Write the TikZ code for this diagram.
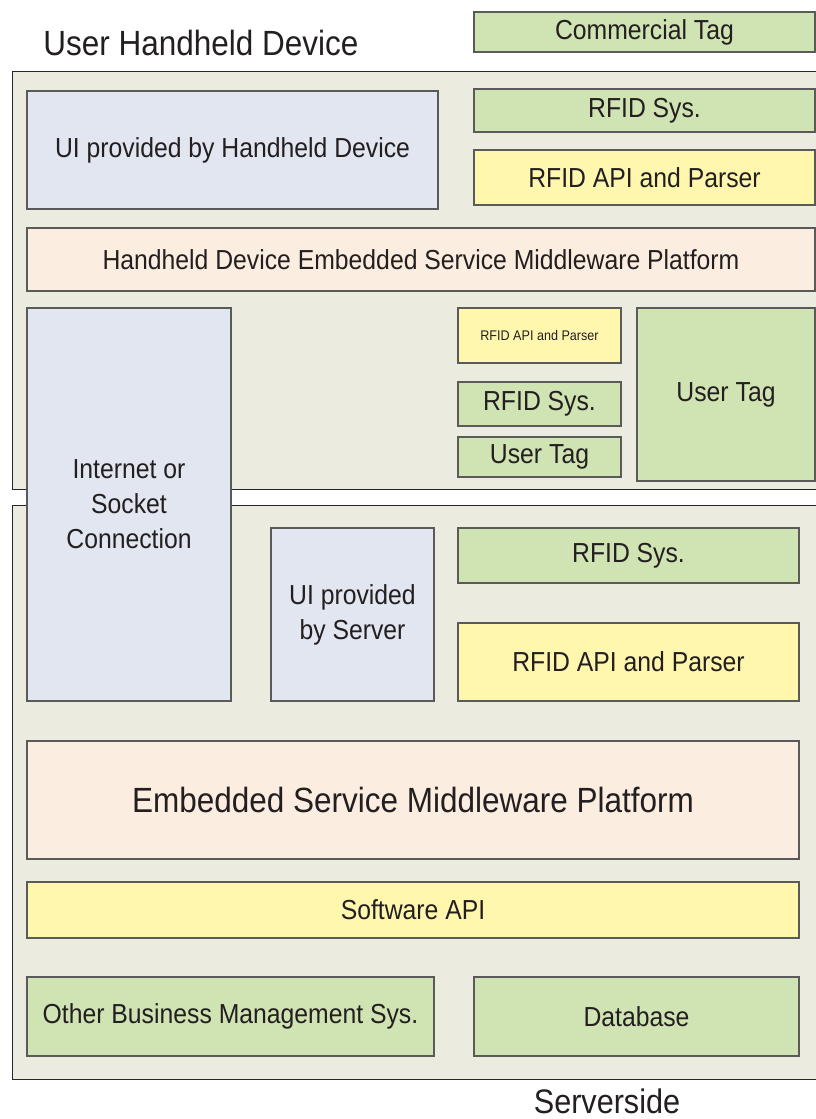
\documentclass[tikz,border=0pt]{standalone}
\usepackage{fontspec}
\setmainfont{Liberation Sans}[FakeStretch=0.9]
\definecolor{cont}{HTML}{EBEBDF}
\definecolor{bluef}{HTML}{E1E6F0}
\definecolor{greenf}{HTML}{D0E3B2}
\definecolor{yellowf}{HTML}{FFF7AE}
\definecolor{peachf}{HTML}{FCEDE1}
\definecolor{edge}{HTML}{5A5A5A}
\definecolor{txt}{HTML}{231F20}
\begin{document}
\begin{tikzpicture}[x=1pt,y=-1pt,
  box/.style={draw=edge,line width=1.1pt,rectangle,inner sep=0pt,text=txt,align=center,
    font=\fontsize{27.5}{35}\selectfont},
  contbox/.style={draw=black!85,line width=1.1pt,fill=cont,rectangle,inner sep=0pt,anchor=north west},
  lbl/.style={text=txt,inner sep=0pt}]
\useasboundingbox (0,0) rectangle (816,1119);
\fill[white] (0,0) rectangle (816,1119);
% containers
\node[contbox,minimum width=810pt,minimum height=418pt] (top) at (11.5,71) {};
\node[contbox,minimum width=810pt,minimum height=574pt] (bot) at (11.5,505) {};
% titles
\node[lbl,font=\fontsize{35}{40}\selectfont] (ttop) at (201,43) {User Handheld Device};
\node[lbl,font=\fontsize{34}{40}\selectfont,anchor=base] (tbot) at (607,1113) {Serverside};
% top part
\node[box,fill=greenf,minimum width=341pt,minimum height=40pt] (comm) at (644.5,32) {Commercial Tag};
\node[box,fill=greenf,minimum width=341pt,minimum height=43pt] (rfid1) at (644.5,110.5) {RFID Sys.};
\node[box,fill=yellowf,minimum width=341pt,minimum height=55pt] (api1) at (644.5,177.5) {RFID API and Parser};
\node[box,fill=bluef,minimum width=411pt,minimum height=118pt] (uihand) at (232.5,150) {UI provided by Handheld Device};
\node[box,fill=peachf,minimum width=788pt,minimum height=63pt] (hmw) at (421,259.5) {Handheld Device Embedded Service Middleware Platform};
\node[box,fill=yellowf,minimum width=163pt,minimum height=55pt,font=\fontsize{14}{16}\selectfont] (api2) at (539.5,335.5) {RFID API and Parser};
\node[box,fill=greenf,minimum width=163pt,minimum height=44pt] (rfid2) at (539.5,404) {RFID Sys.};
\node[box,fill=greenf,minimum width=163pt,minimum height=40pt] (utag2) at (539.5,457) {User Tag};
\node[box,fill=greenf,minimum width=178pt,minimum height=173pt] (utag1) at (726,394.5) {User Tag};
% connection
\node[box,fill=bluef,minimum width=204pt,minimum height=393pt] (inet) at (129,504.5) {Internet or\\Socket\\Connection};
% bottom part
\node[box,fill=bluef,minimum width=163pt,minimum height=173pt] (uiserv) at (352.5,614.5) {UI provided\\by Server};
\node[box,fill=greenf,minimum width=341pt,minimum height=55pt] (rfid3) at (628.5,555.5) {RFID Sys.};
\node[box,fill=yellowf,minimum width=341pt,minimum height=78pt] (api3) at (628.5,662) {RFID API and Parser};
\node[box,fill=peachf,minimum width=772pt,minimum height=118pt,font=\fontsize{35}{40}\selectfont] (emw) at (413,800) {Embedded Service Middleware Platform};
\node[box,fill=yellowf,minimum width=772pt,minimum height=56pt] (swapi) at (413,910) {Software API};
\node[box,fill=greenf,minimum width=407pt,minimum height=79pt] (other) at (230.5,1016.5) {Other Business Management Sys.};
\node[box,fill=greenf,minimum width=325pt,minimum height=79pt] (db) at (636.5,1016.5) {Database};
\end{tikzpicture}
\end{document}
